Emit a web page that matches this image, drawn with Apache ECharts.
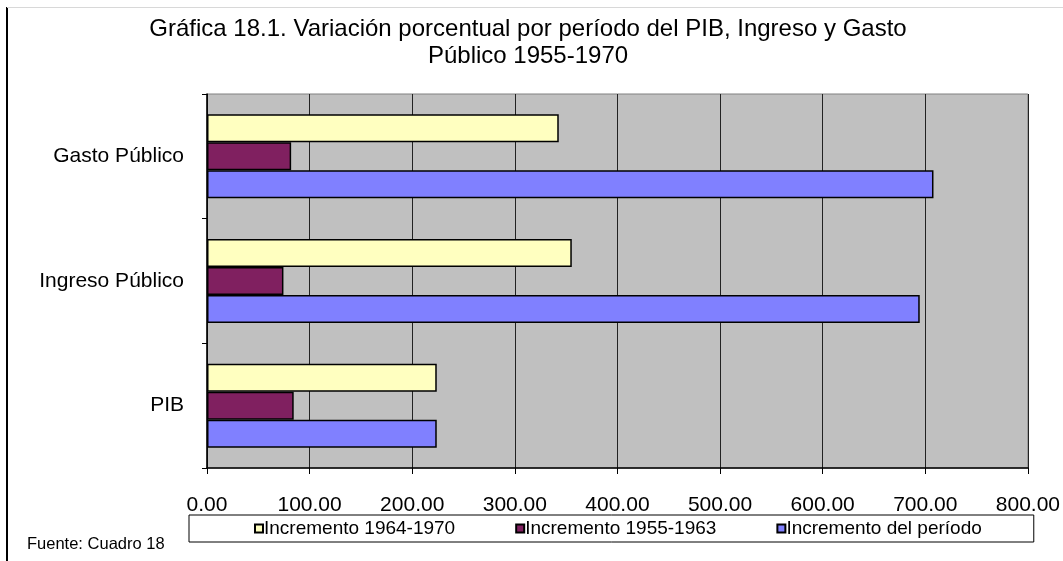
<!DOCTYPE html>
<html>
<head>
<meta charset="utf-8">
<script src="https://cdn.jsdelivr.net/npm/echarts@6/dist/echarts.min.js"></script>
<style>
html,body{margin:0;padding:0;background:#fff;}
#chart{width:1063px;height:561px;}
</style>
</head>
<body>
<div id="chart"></div>
<script>
const categories = ['PIB', 'Ingreso Público', 'Gasto Público'];
const seriesNames = ['Incremento 1964-1970', 'Incremento 1955-1963', 'Incremento del período'];
const inc6470 = [223.9, 355.5, 342.8];
const inc5563 = [84.5, 74.5, 82.0];
const incPeriodo = [223.9, 694.6, 708.0];
const xTicks = [0, 100, 200, 300, 400, 500, 600, 700, 800];

const FONT = '"Liberation Sans", Arial, sans-serif';
const colors = ['#FFFFC0', '#802060', '#8080FF'];
const seriesData = [inc6470, inc5563, incPeriodo];

const chart = echarts.init(document.getElementById('chart'), null, {renderer: 'canvas'});
chart.setOption({
  animation: false,
  backgroundColor: '#fff',
  title: {
    text: 'Gráfica 18.1. Variación porcentual por período del PIB, Ingreso y Gasto\nPúblico 1955-1970',
    left: 523, top: 11, textAlign: 'center',
    textStyle: {fontFamily: FONT, fontSize: 24, fontWeight: 'normal', color: '#000', lineHeight: 27}
  },
  legend: {
    data: seriesNames,
    left: 189, top: 515,
    orient: 'horizontal',
    itemWidth: 8, itemHeight: 8, itemGap: 60,
    icon: 'rect',
    borderColor: '#000', borderWidth: 1,
    padding: [4, 52, 4, 65],
    textStyle: {fontFamily: FONT, fontSize: 19, color: '#000', padding: [0, 0, 0, -4]}
  },
  grid: {
    left: 207, right: 33, top: 94, bottom: 93,
    show: true, backgroundColor: '#C0C0C0', borderColor: '#808080', borderWidth: 1
  },
  xAxis: {
    type: 'value', min: 0, max: 800, interval: 100,
    axisLine: {show: true, lineStyle: {color: '#000', width: 1.5}},
    axisTick: {show: true, length: 6, lineStyle: {color: '#000'}},
    splitLine: {show: true, lineStyle: {color: '#222', width: 1}},
    axisLabel: {
      margin: 27, fontFamily: FONT, fontSize: 21, color: '#000',
      formatter: v => xTicks.indexOf(v) >= 0 ? v.toFixed(2) : ''
    }
  },
  yAxis: {
    type: 'category', data: categories,
    axisLine: {show: true, lineStyle: {color: '#000', width: 1.5}},
    axisTick: {show: true, length: 5, inside: false, alignWithLabel: false, lineStyle: {color: '#000'}},
    axisLabel: {margin: 23, fontFamily: FONT, fontSize: 21, color: '#000'},
    splitLine: {show: false}
  },
  series: seriesNames.map((n, i) => ({
    name: n, type: 'bar', data: seriesData[i],
    barWidth: 28, barGap: '0%',
    itemStyle: {color: colors[i], borderColor: '#000', borderWidth: 1.5}
  })),
  graphic: [
    {type: 'line', shape: {x1: 7, y1: 7, x2: 7, y2: 561}, style: {stroke: '#000', lineWidth: 2}},
    {type: 'line', shape: {x1: 7, y1: 7.5, x2: 1063, y2: 7.5}, style: {stroke: '#d8d8d8', lineWidth: 1}},
    {type: 'text', left: 27, top: 536, style: {text: 'Fuente: Cuadro 18', fontFamily: FONT, fontSize: 16.5, fill: '#000'}}
  ]
});
</script>
</body>
</html>
